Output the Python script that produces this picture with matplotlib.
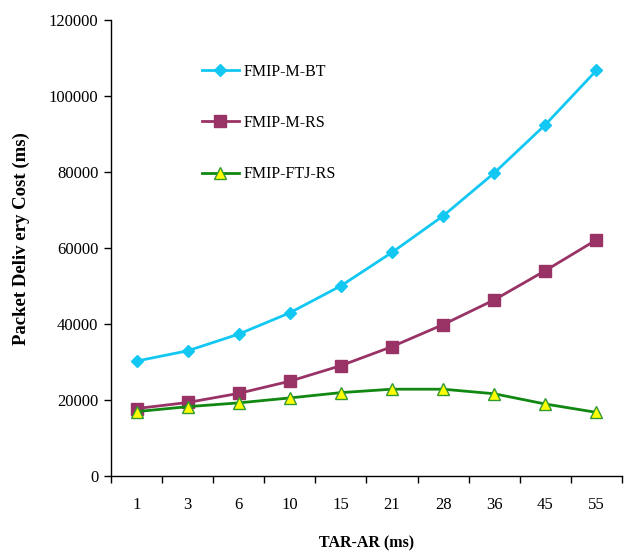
import numpy as np
import matplotlib
matplotlib.use("Agg")
import matplotlib.pyplot as plt
from matplotlib.ticker import FixedLocator, NullFormatter

# data
tar_ar = ["1", "3", "6", "10", "15", "21", "28", "36", "45", "55"]
fmip_m_bt = [30200, 32900, 37300, 42900, 50000, 58800, 68400, 79700, 92400, 106700]
fmip_m_rs = [17700, 19300, 21700, 24900, 29000, 34000, 39800, 46300, 54000, 62100]
fmip_ftj_rs = [16900, 18200, 19200, 20500, 21900, 22800, 22800, 21600, 18900, 16700]
y_ticks = [0, 20000, 40000, 60000, 80000, 100000, 120000]

plt.rcParams['font.family'] = ['Liberation Serif', 'DejaVu Serif']

fig = plt.figure(figsize=(6.34, 5.52), dpi=100)
ax = fig.add_axes([0.175, 0.138, 0.806, 0.826])

x = np.arange(len(tar_ar))
ax.plot(x, fmip_m_bt, color='#12C8F2', lw=2.0, marker='D', ms=6.5,
        mfc='#12C8F2', mec='#12C8F2', label='FMIP-M-BT')
ax.plot(x, fmip_m_rs, color='#993366', lw=2.0, marker='s', ms=8,
        mfc='#993366', mec='#993366', label='FMIP-M-RS')
ax.plot(x, fmip_ftj_rs, color='#118811', lw=2.0, marker='^', ms=9,
        mfc='#FFFF00', mec='#339933', mew=1.0, label='FMIP-FTJ-RS')

ax.set_xlim(-0.5, len(tar_ar) - 0.5)
ax.set_ylim(0, 120000)
ax.set_yticks(y_ticks)
ax.set_yticklabels([str(v) for v in y_ticks], fontsize=12)

# category axis: labels centred, tick marks on boundaries
ax.set_xticks(x)
ax.set_xticklabels(tar_ar, fontsize=12)
ax.tick_params(axis='x', which='major', length=0, pad=15)
ax.xaxis.set_minor_locator(FixedLocator(np.arange(-0.5, len(tar_ar), 1.0)))
ax.xaxis.set_minor_formatter(NullFormatter())
ax.tick_params(axis='x', which='minor', length=5, width=1, direction='out')
ax.tick_params(axis='y', length=5, width=1, direction='out', pad=4)

for s in ['top', 'right']:
    ax.spines[s].set_visible(False)
ax.spines['left'].set_linewidth(1.0)
ax.spines['bottom'].set_linewidth(1.0)

ax.set_xlabel('TAR-AR (ms)', fontsize=11.5, fontweight='bold')
ax.xaxis.set_label_coords(0.5, -0.131)
ax.set_ylabel('Packet Deliv ery Cost (ms)', fontsize=13.5, fontweight='bold')
ax.yaxis.set_label_coords(-0.158, 0.52)

ax.legend(loc='upper left', bbox_to_anchor=(0.15, 0.935), frameon=False,
          fontsize=11.5, labelspacing=2.2, handlelength=2.3, handletextpad=0.3)

fig.savefig('out.png', dpi=100)
